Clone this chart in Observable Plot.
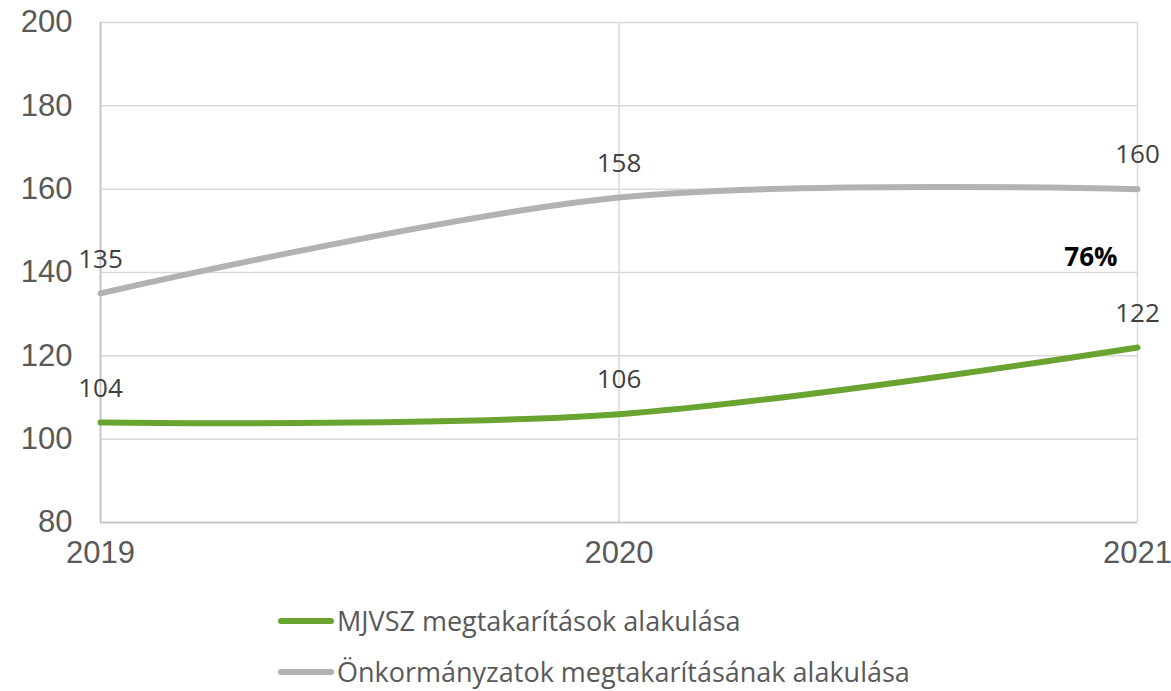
<!DOCTYPE html>
<html><head><meta charset="utf-8">
<script src="https://cdn.jsdelivr.net/npm/d3@7"></script>
<script src="https://cdn.jsdelivr.net/npm/@observablehq/plot@0.6"></script>
<style>
body{margin:0;background:#fff;overflow:hidden;}
#legend{font-family:"Open Sans",sans-serif;font-size:27px;color:#595959;}
.row{position:absolute;left:278px;display:flex;align-items:center;height:34px;line-height:34px;}
.sw{width:56px;height:6px;border-radius:3px;margin-right:3px;}
</style></head>
<body>
<div id="chart" style="position:absolute;left:0;top:0"></div>
<div id="legend"></div>
<script>
const years = [2019, 2020, 2021];
const mjvsz = [104, 106, 122];
const onkorm = [135, 158, 160];
const seriesNames = ["MJVSZ megtakarítások alakulása", "Önkormányzatok megtakarításának alakulása"];
const seriesColors = ["#6aa430", "#b2b2b2"];
const yTicks = [80, 100, 120, 140, 160, 180, 200];
const note = {year: 2021, value: 143.6, text: "76%"};

const data = [];
years.forEach((y, i) => {
  data.push({year: y, value: mjvsz[i], s: seriesNames[0]});
  data.push({year: y, value: onkorm[i], s: seriesNames[1]});
});

const chart = Plot.plot({
  width: 1171, height: 580,
  marginTop: 22, marginBottom: 58, marginLeft: 100, marginRight: 34,
  style: {fontFamily: "'Liberation Sans', Arial, sans-serif", background: "#fff"},
  x: {domain: [2019, 2021], ticks: years, tickFormat: "d", label: null},
  y: {domain: [80, 200], ticks: yTicks, label: null},
  color: {domain: seriesNames, range: seriesColors},
  marks: [
    Plot.ruleY(yTicks, {stroke: "#d9d9d9", strokeWidth: 1.5}),
    Plot.ruleX(years, {stroke: "#d9d9d9", strokeWidth: 1.5}),
    Plot.ruleX([2019], {stroke: "#bfbfbf", strokeWidth: 1.5}),
    Plot.ruleY([80], {stroke: "#bfbfbf", strokeWidth: 1.5}),
    Plot.axisY({ticks: yTicks, tickSize: 0, tickPadding: 28, fontSize: 31, fill: "#595959", label: null}),
    Plot.axisX({ticks: years, tickFormat: "d", tickSize: 0, tickPadding: 18, fontSize: 31, fill: "#595959", label: null}),
    Plot.line(data, {x: "year", y: "value", z: "s", stroke: "s", strokeWidth: 6, curve: "catmull-rom"}),
    Plot.text(data, {x: "year", y: "value", text: d => String(d.value), dy: -34, fontSize: 26, fill: "#404040", fontFamily: "'Open Sans', sans-serif"}),
    Plot.text([note], {x: "year", y: "value", text: "text", textAnchor: "end", dx: -20, fontSize: 26, fontWeight: "bold", fill: "#000", fontFamily: "'Open Sans', sans-serif"})
  ]
});
document.getElementById("chart").appendChild(chart);

const leg = document.getElementById("legend");
seriesNames.forEach((n, i) => {
  const r = document.createElement("div");
  r.className = "row";
  r.style.top = (604 + i * 51) + "px";
  r.innerHTML = `<span class="sw" style="background:${seriesColors[i]}"></span><span>${n}</span>`;
  leg.appendChild(r);
});
</script>
</body></html>
